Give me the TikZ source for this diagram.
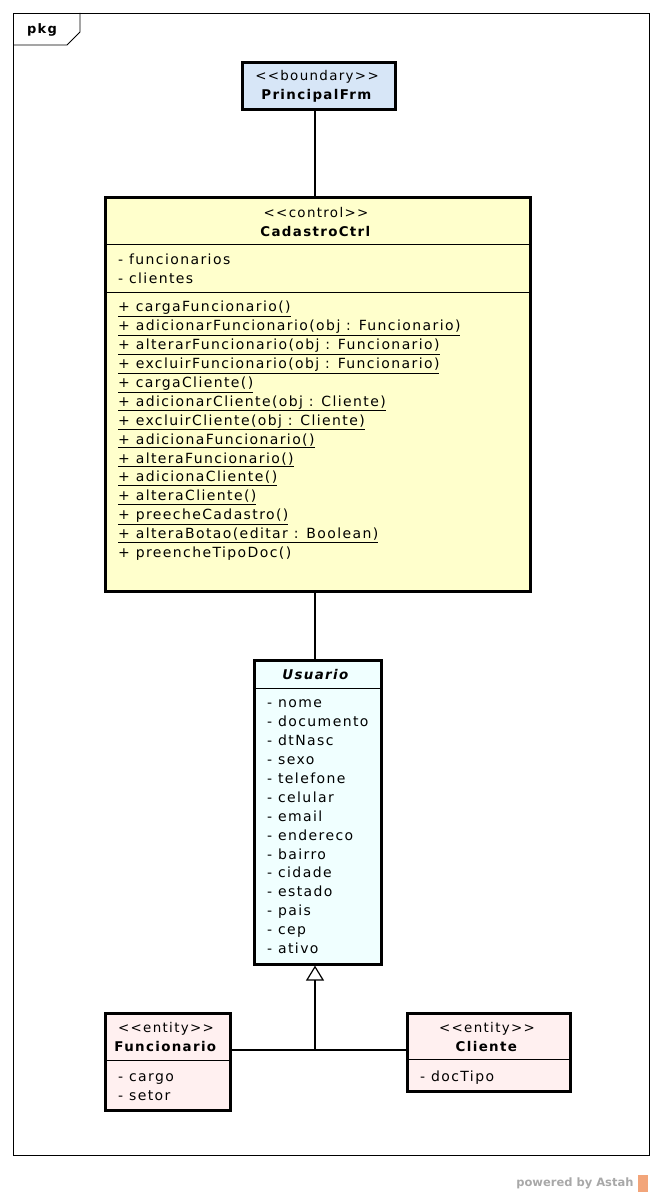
\documentclass[tikz,border=0pt]{standalone}
\usepackage{fontspec}
\setmainfont{DejaVu Sans}[LetterSpace=10]
\usetikzlibrary{arrows.meta}

\definecolor{bndfill}{HTML}{D7E6F7}
\definecolor{ctlfill}{HTML}{FFFFCC}
\definecolor{usrfill}{HTML}{F0FFFF}
\definecolor{entfill}{HTML}{FFF0F0}
\definecolor{astahgray}{HTML}{A8A8A8}
\definecolor{astahorange}{HTML}{F2A57A}

\tikzset{
  classbox/.style={draw, line width=2.6pt, inner sep=0pt, anchor=north west},
  members/.style={anchor=base west, inner sep=0pt, align=left, font=\fontsize{14}{18.9}\selectfont},
  heading/.style={inner sep=0pt, align=center, font=\fontsize{13.4}{19}\selectfont},
  compart/.style={line width=0.8pt},
  link/.style={line width=1.2pt},
}

\begin{document}
\begin{tikzpicture}[x=1pt, y=-1pt]
\useasboundingbox (0,0) rectangle (662,1196);
% package frame
\draw[line width=0.8pt] (13,13) rectangle (649,1155);
\draw[line width=0.8pt] (13,45) -- (67,45) -- (80,32) -- (80,13);
\node[font=\bfseries\fontsize{13}{15}\selectfont] (pkg) at (42,30) {pkg};

% boundary
\node[classbox, fill=bndfill, minimum width=153pt, minimum height=47pt] (frm) at (241,61) {};
\node[heading] (frmname) at (317,86) {<{}<boundary>{}>\\\textbf{PrincipalFrm}};

% control (member nodes are placed by their last baseline)
\node[classbox, fill=ctlfill, minimum width=425pt, minimum height=394pt] (ctrl) at (104,196) {};
\node[heading] (ctrlname) at (316,222) {<{}<control>{}>\\\textbf{CadastroCtrl}};
\draw[compart] (104,244) -- (529,244);
\draw[compart] (104,292) -- (529,292);
\node[members] (ctrlattr) at (118,283) {- funcionarios\\- clientes};
\node[members] (ctrlops) at (118,557.5) {%
\underline{+ cargaFuncionario()}\\
\underline{+ adicionarFuncionario(obj : Funcionario)}\\
\underline{+ alterarFuncionario(obj : Funcionario)}\\
\underline{+ excluirFuncionario(obj : Funcionario)}\\
\underline{+ cargaCliente()}\\
\underline{+ adicionarCliente(obj : Cliente)}\\
\underline{+ excluirCliente(obj : Cliente)}\\
\underline{+ adicionaFuncionario()}\\
\underline{+ alteraFuncionario()}\\
\underline{+ adicionaCliente()}\\
\underline{+ alteraCliente()}\\
\underline{+ preecheCadastro()}\\
\underline{+ alteraBotao(editar : Boolean)}\\
+ preencheTipoDoc()};

% abstract user
\node[classbox, fill=usrfill, minimum width=127pt, minimum height=304pt] (usr) at (253,659) {};
\node[heading] (usrname) at (316,674) {\textbf{\textit{Usuario}}};
\draw[compart] (253,688) -- (380,688);
\node[members] (usrattr) at (267,953.5) {- nome\\- documento\\- dtNasc\\- sexo\\- telefone\\- celular\\- email\\- endereco\\- bairro\\- cidade\\- estado\\- pais\\- cep\\- ativo};

% entities
\node[classbox, fill=entfill, minimum width=125pt, minimum height=97pt] (func) at (104,1012) {};
\node[heading] (funcname) at (166,1037) {<{}<entity>{}>\\\textbf{Funcionario}};
\draw[compart] (104,1060) -- (229,1060);
\node[members] (funcattr) at (118,1100) {- cargo\\- setor};

\node[classbox, fill=entfill, minimum width=163pt, minimum height=78pt] (cli) at (406,1012) {};
\node[heading] (cliname) at (487,1037) {<{}<entity>{}>\\\textbf{Cliente}};
\draw[compart] (406,1059) -- (569,1059);
\node[members] (cliattr) at (420,1081) {- docTipo};

% connectors
\coordinate (axis) at (315,0);
\draw[link] (frm.south -| axis) -- (ctrl.north -| axis);
\draw[link] (ctrl.south -| axis) -- (usr.north -| axis);
\coordinate (gen) at (axis |- 0,1050);
\draw[link] (func.east |- gen) -- (cli.west |- gen);
\draw[link, -{Triangle[open, width=18pt, length=15pt, line width=1.2pt]}] (gen) -- (usr.south -| axis);

% watermark
\node[anchor=east, text=astahgray, font=\addfontfeatures{LetterSpace=0}\bfseries\fontsize{11.5}{14}\selectfont] (astah) at (637,1183) {powered by Astah};
\fill[astahorange] (638,1175) rectangle (648,1192);
\end{tikzpicture}
\end{document}
